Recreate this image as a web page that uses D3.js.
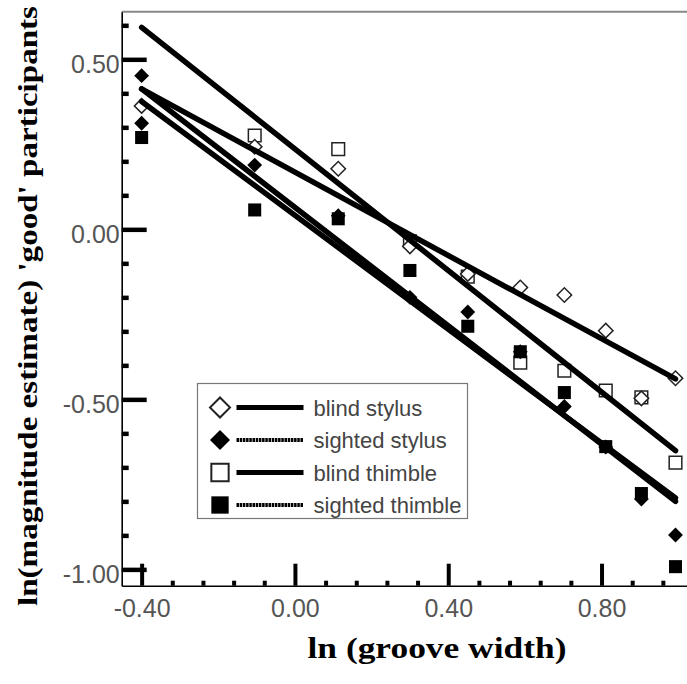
<!DOCTYPE html>
<html>
<head>
<meta charset="utf-8">
<script src="https://cdn.jsdelivr.net/npm/d3@7"></script>
<style>
	body { margin: 0; background: #fff; }
</style>
</head>
<body>
<svg id="chart" width="687" height="684"></svg>
<script>
'use strict';

// ln(groove width) for each of the ten groove widths
const groove = [-0.400, -0.105, 0.113, 0.300, 0.451, 0.588, 0.703, 0.811, 0.904, 0.993];

const blindStylus   = [0.363, 0.243, 0.178, -0.050, -0.131, -0.171, -0.193, -0.298, -0.497, -0.438];
const blindThimble  = [null, 0.276, 0.236, -0.035, -0.139, -0.392, -0.416, -0.474, -0.494, -0.686];
const sightedThimble = [0.270, 0.057, 0.031, -0.121, -0.285, -0.360, -0.480, -0.639, -0.777, -0.992];
// sighted stylus has two values at the narrowest groove
const sightedStylusX = [-0.400, -0.400, -0.105, 0.113, 0.300, 0.451, 0.588, 0.703, 0.811, 0.904, 0.993];
const sightedStylus  = [0.452, 0.312, 0.189, 0.040, -0.200, -0.243, -0.360, -0.521, -0.640, -0.793, -0.899];

// fitted lines, end points
const fitX = [-0.400, 0.993];
const fitBlindStylus    = [0.413, -0.440];
const fitSightedStylus  = [0.413, -0.800];
const fitBlindThimble   = [0.594, -0.651];
const fitSightedThimble = [0.376, -0.790];

const xMajor = [-0.40, 0.00, 0.40, 0.80];
const xMinor = [-0.32, -0.24, -0.16, -0.08, 0.08, 0.16, 0.24, 0.32, 0.48, 0.56, 0.64, 0.72, 0.88, 0.96];
const yMajor = [0.50, 0.00, -0.50, -1.00];
const yMinor = [0.6, 0.4, 0.3, 0.2, 0.1, -0.1, -0.2, -0.3, -0.4, -0.6, -0.7, -0.8, -0.9];

const legendNames = ["blind stylus", "sighted stylus", "blind thimble", "sighted thimble"];

const SANS = "'Liberation Sans', Arial, Helvetica, sans-serif";
const SERIF = "'Liberation Serif', 'Times New Roman', serif";

const svg = d3.select("#chart");

const x = d3.scaleLinear().domain([-0.452, 1.023]).range([121.7, 687]);
const y = d3.scaleLinear().domain([-1.048, 0.640]).range([585.7, 11.7]);

const fmt = d => d.toFixed(2);   // plain hyphen minus, like the original

// frame: gray top border
svg.append("line")
	.attr("x1", x.range()[0]).attr("x2", x.range()[1])
	.attr("y1", y.range()[1]).attr("y2", y.range()[1])
	.attr("stroke", "#888").attr("stroke-width", 2);

// x axis
const gx = svg.append("g").attr("transform", `translate(0,${y.range()[0]})`);
gx.call(d3.axisBottom(x).tickValues(xMajor).tickSizeInner(-22).tickSizeOuter(0)
	.tickPadding(14).tickFormat(fmt));
gx.append("g").call(d3.axisBottom(x).tickValues(xMinor).tickSizeInner(-5).tickSizeOuter(0)
	.tickFormat(""))
	.select(".domain").remove();

// y axis
const gy = svg.append("g").attr("transform", `translate(${x.range()[0]},0)`);
gy.call(d3.axisLeft(y).tickValues(yMajor).tickSizeInner(-25).tickSizeOuter(0)
	.tickPadding(2).tickFormat(fmt));
gy.append("g").call(d3.axisLeft(y).tickValues(yMinor).tickSizeInner(-7).tickSizeOuter(0)
	.tickFormat(""))
	.select(".domain").remove();

svg.selectAll(".domain").attr("stroke", "#000").attr("stroke-width", 1.6);
gx.selectAll(".tick line").attr("stroke", "#000").attr("stroke-width", 4);
gy.selectAll(".tick line").attr("stroke", "#000").attr("stroke-width", 4.5);
svg.selectAll(".tick text")
	.attr("fill", "#555")
	.style("font-family", SANS)
	.style("font-size", "25px");
gy.selectAll(".tick text").attr("dy", "0.52em");

// markers
const sq = d3.symbol().type(d3.symbolSquare);
function markers(xs, ys, shape, size, filled) {
	const pts = xs.map((v, i) => [v, ys[i]]).filter(p => p[1] !== null);
	svg.append("g").selectAll("path")
		.data(pts)
		.join("path")
			.attr("d", sq.size(size)())
			.attr("transform", p => `translate(${x(p[0])},${y(p[1])})` + (shape === "diamond" ? " rotate(45)" : ""))
			.attr("fill", filled ? "#000" : "#fff")
			.attr("stroke", filled ? "none" : "#222")
			.attr("stroke-width", 1.5);
}
markers(groove, blindThimble, "square", 160, false);
markers(groove, blindStylus, "diamond", 105, false);
markers(sightedStylusX, sightedStylus, "diamond", 110, true);
markers(groove, sightedThimble, "square", 170, true);

// fitted lines
const line = d3.line().x(p => x(p[0])).y(p => y(p[1]));
[fitBlindThimble, fitBlindStylus, fitSightedStylus, fitSightedThimble].forEach(f => {
	svg.append("path")
		.attr("d", line(fitX.map((v, i) => [v, f[i]])))
		.attr("fill", "none")
		.attr("stroke", "#000")
		.attr("stroke-width", 5.5)
		.attr("stroke-linecap", "round");
});

// legend
const lg = svg.append("g").attr("transform", "translate(197.5,383.5)");
lg.append("rect")
	.attr("width", 270).attr("height", 135)
	.attr("fill", "#fff").attr("stroke", "#777").attr("stroke-width", 1.2);
const legendShapes = ["diamond", "diamond", "square", "square"];
const legendFilled = [false, true, false, true];
legendNames.forEach((name, i) => {
	const cy = 24 + i * 32.5;
	const isDiamond = legendShapes[i] === "diamond";
	lg.append("path")
		.attr("d", sq.size(isDiamond ? 200 : 300)())
		.attr("transform", `translate(22.5,${cy})` + (isDiamond ? " rotate(45)" : ""))
		.attr("fill", legendFilled[i] ? "#000" : "#fff")
		.attr("stroke", legendFilled[i] ? "none" : "#222")
		.attr("stroke-width", 2);
	lg.append("line")
		.attr("x1", 39).attr("x2", 106).attr("y1", cy).attr("y2", cy)
		.attr("stroke", "#000")
		.attr("stroke-width", legendFilled[i] ? 4 : 5)
		.attr("stroke-dasharray", legendFilled[i] ? "2.5,0.7" : null);
	lg.append("text")
		.attr("x", 116).attr("y", cy + 8)
		.attr("fill", "#444")
		.style("font-family", SANS)
		.style("font-size", "22px")
		.text(name);
});

// axis titles
svg.append("text")
	.attr("x", 437).attr("y", 658)
	.attr("text-anchor", "middle")
	.attr("textLength", 259).attr("lengthAdjust", "spacingAndGlyphs")
	.style("font-family", SERIF).style("font-weight", "bold").style("font-size", "30px")
	.text("ln (groove width)");

svg.append("text")
	.attr("transform", "translate(37,306) rotate(-90)")
	.attr("text-anchor", "middle")
	.attr("textLength", 600).attr("lengthAdjust", "spacingAndGlyphs")
	.style("font-family", SERIF).style("font-weight", "bold").style("font-size", "27px")
	.text("ln(magnitude estimate) 'good' participants");
</script>
</body>
</html>
